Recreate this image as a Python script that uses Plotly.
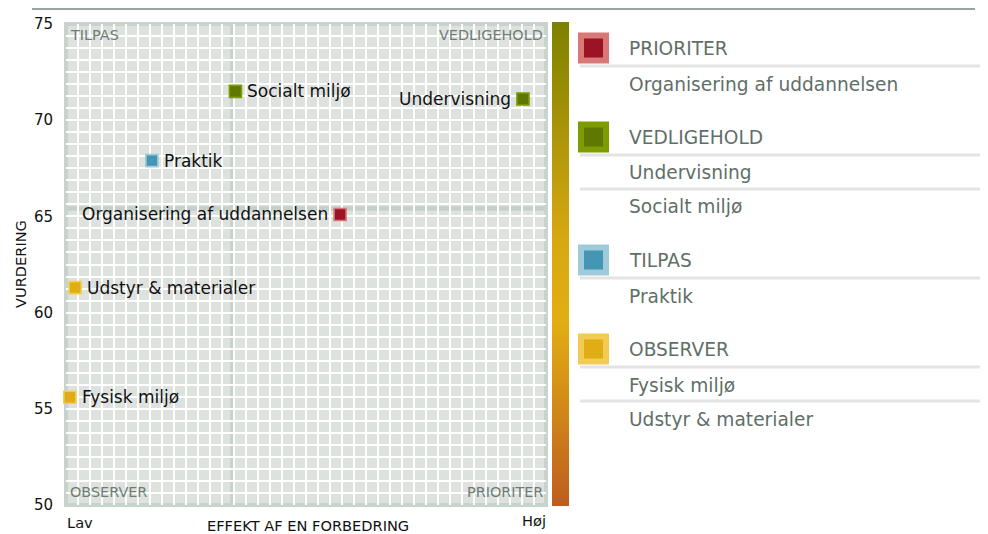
import plotly.graph_objects as go

# ---------------- data ----------------
items = ["Socialt miljø", "Praktik", "Undervisning", "Organisering af uddannelsen",
         "Udstyr & materialer", "Fysisk miljø"]
effekt = [35.3, 17.9, 95.2, 57.1, 1.9, 0.8]          # EFFEKT AF EN FORBEDRING (Lav..Høj, 0-100)
vurdering = [71.5, 67.9, 71.1, 65.1, 61.3, 55.6]     # VURDERING
quadrant = ["VEDLIGEHOLD", "TILPAS", "VEDLIGEHOLD", "PRIORITER", "OBSERVER", "OBSERVER"]
label_left = ["Undervisning", "Organisering af uddannelsen"]

legend_groups = ["PRIORITER", "VEDLIGEHOLD", "TILPAS", "OBSERVER"]
legend_members = {
    "PRIORITER": ["Organisering af uddannelsen"],
    "VEDLIGEHOLD": ["Undervisning", "Socialt miljø"],
    "TILPAS": ["Praktik"],
    "OBSERVER": ["Fysisk miljø", "Udstyr & materialer"],
}
y_ticks = [50, 55, 60, 65, 70, 75]
x_labels = ["Lav", "Høj"]

# ---------------- styles ----------------
inner_col = {"PRIORITER": "#9b1426", "VEDLIGEHOLD": "#5e7800",
             "TILPAS": "#4596b5", "OBSERVER": "#e0ad14"}
outer_col = {"PRIORITER": "#d87878", "VEDLIGEHOLD": "#7c9c00",
             "TILPAS": "#9fcad9", "OBSERVER": "#f2cb55"}
FONT = "DejaVu Sans"
OFF = 8                       # page body margin
W, H = 980, 526
PL, PT, PWID, PHGT = 66, 24, 480, 481   # plot area in screen pixels
L = PL - OFF
T = PT - OFF
R = W - L - PWID
B = H - T - PHGT
PAD = 2                       # annotation inner padding


def px(x):
    return (x - PL) / PWID


def py(y):
    return (PT + PHGT - y) / PHGT


fig = go.Figure()

# points
fig.add_trace(go.Scatter(
    x=effekt, y=vurdering, mode="markers",
    marker=dict(symbol="square", size=12,
                color=[inner_col[q] for q in quadrant],
                line=dict(color=[outer_col[q] for q in quadrant], width=1.6)),
    hoverinfo="skip", showlegend=False, cliponaxis=False,
))

# colour bar
fig.add_trace(go.Scatter(
    x=[None], y=[None], mode="markers", showlegend=False, hoverinfo="skip",
    marker=dict(color=[0], cmin=0, cmax=1, showscale=True,
                colorscale=[[0, "#be5d1f"], [0.38, "#e2ae12"], [0.55, "#d8a811"], [1, "#7d8000"]],
                colorbar=dict(x=px(552), xanchor="left", xref="paper", xpad=0, ypad=0,
                              thickness=17, thicknessmode="pixels", len=484, lenmode="pixels",
                              y=py(263.5), yanchor="middle", outlinewidth=0, ticks="",
                              showticklabels=False)),
))

mean_x = sum(effekt) / len(effekt)
mean_y = sum(vurdering) / len(vurdering)

shapes = []
# quadrant dividers
shapes.append(dict(type="line", xref="x", yref="paper", x0=mean_x, x1=mean_x, y0=0, y1=1,
                   line=dict(color="#c5d0c8", width=4.5), layer="between"))
shapes.append(dict(type="line", xref="paper", yref="y", x0=0, x1=1, y0=mean_y, y1=mean_y,
                   line=dict(color="#c5d0c8", width=4.5), layer="between"))
# frame
shapes.append(dict(type="rect", xref="paper", yref="paper", x0=0, x1=1, y0=0, y1=1,
                   line=dict(color="#c8d3cb", width=4), layer="between"))
# top rule
shapes.append(dict(type="line", xref="paper", yref="paper", x0=px(32), x1=px(975),
                   y0=py(9), y1=py(9), line=dict(color="#7a8580", width=1.5)))

annotations = []
# point labels
lblfont = dict(family=FONT, size=17, color="#111111")
for n, xv, yv in zip(items, effekt, vurdering):
    left = n in label_left
    annotations.append(dict(text=n, x=xv, y=yv, xref="x", yref="y", showarrow=False,
                            xanchor="right" if left else "left", yanchor="middle",
                            xshift=(-12 + PAD) if left else (12 - PAD), font=lblfont))

corner = dict(font=dict(family=FONT, size=14.4, color="#6e7c76"), showarrow=False,
              xref="paper", yref="paper", yanchor="middle")
annotations.append(dict(text="TILPAS", x=px(70 - PAD), y=py(35), xanchor="left", **corner))
annotations.append(dict(text="VEDLIGEHOLD", x=px(543 + PAD), y=py(35), xanchor="right", **corner))
annotations.append(dict(text="OBSERVER", x=px(70 - PAD), y=py(492), xanchor="left", **corner))
annotations.append(dict(text="PRIORITER", x=px(543 + PAD), y=py(492), xanchor="right", **corner))

axfont = dict(family=FONT, size=14.6, color="#111111")
annotations.append(dict(text=x_labels[0], x=px(67 - PAD), y=py(522), xanchor="left", yanchor="middle",
                        xref="paper", yref="paper", showarrow=False, font=axfont))
annotations.append(dict(text=x_labels[1], x=px(546 + PAD), y=py(520), xanchor="right", yanchor="middle",
                        xref="paper", yref="paper", showarrow=False, font=axfont))
annotations.append(dict(text="EFFEKT AF EN FORBEDRING", x=px(307.5), y=py(525), xanchor="center",
                        yanchor="middle", xref="paper", yref="paper", showarrow=False, font=axfont))
annotations.append(dict(text="VURDERING", x=px(20), y=py(264), xanchor="center", yanchor="middle",
                        textangle=-90, xref="paper", yref="paper", showarrow=False, font=axfont))

# legend (right panel)
legfont = dict(family=FONT, size=18.6, color="#5f6f68")
cy = 48
for g in legend_groups:
    shapes.append(dict(type="rect", xref="paper", yref="paper", x0=px(578), x1=px(609),
                       y0=py(cy + 15.5), y1=py(cy - 15.5), fillcolor=outer_col[g], line=dict(width=0)))
    shapes.append(dict(type="rect", xref="paper", yref="paper", x0=px(584), x1=px(603),
                       y0=py(cy + 9.5), y1=py(cy - 9.5), fillcolor=inner_col[g], line=dict(width=0)))
    annotations.append(dict(text=g, x=px(629 - PAD), y=py(cy), xanchor="left", yanchor="middle",
                            xref="paper", yref="paper", showarrow=False, font=legfont))
    shapes.append(dict(type="line", xref="paper", yref="paper", x0=px(580), x1=px(992),
                       y0=py(cy + 18), y1=py(cy + 18), line=dict(color="#e3e3e3", width=3)))
    iy = cy + 36
    for k, m in enumerate(legend_members[g]):
        if k > 0:
            shapes.append(dict(type="line", xref="paper", yref="paper", x0=px(580), x1=px(992),
                               y0=py(iy - 18), y1=py(iy - 18), line=dict(color="#e3e3e3", width=3)))
        annotations.append(dict(text=m, x=px(629 - PAD), y=py(iy), xanchor="left", yanchor="middle",
                                xref="paper", yref="paper", showarrow=False, font=legfont))
        iy += 34
    cy = iy - 34 + 53

fig.update_layout(
    width=W, height=H,
    margin=dict(l=L, r=R, t=T, b=B, pad=0, autoexpand=False),
    paper_bgcolor="white", plot_bgcolor="#dde2df",
    shapes=shapes, annotations=annotations,
    showlegend=False,
    xaxis=dict(range=[0, 100], dtick=2.5, tick0=0, showticklabels=False, ticks="",
               showgrid=True, gridcolor="white", gridwidth=2, zeroline=False, showline=False,
               fixedrange=True),
    yaxis=dict(range=[50, 75], tickvals=y_ticks, ticks="", showticklabels=True,
               tickfont=dict(family=FONT, size=15, color="#111111"), ticklabelstandoff=12,
               showgrid=True, gridcolor="white", gridwidth=2, zeroline=False, showline=False,
               minor=dict(dtick=0.625, tick0=50, showgrid=True, gridcolor="white", gridwidth=2),
               fixedrange=True),
)

fig.write_html("out.html")
